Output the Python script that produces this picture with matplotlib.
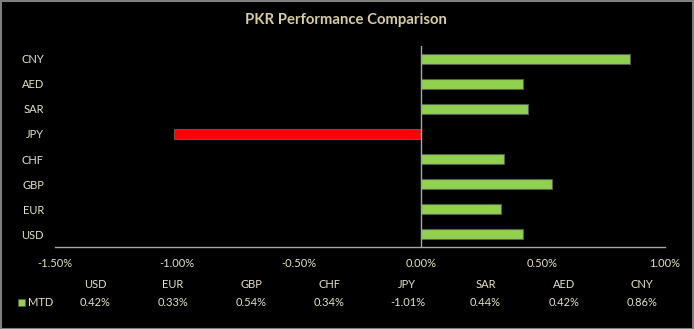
import matplotlib
matplotlib.use('Agg')
import matplotlib.pyplot as plt
from matplotlib.patches import Rectangle

# data (bottom to top, as in the chart)
currencies = ['USD', 'EUR', 'GBP', 'CHF', 'JPY', 'SAR', 'AED', 'CNY']
mtd = [0.42, 0.33, 0.54, 0.34, -1.01, 0.44, 0.42, 0.86]
x_ticks = [-1.5, -1.0, -0.5, 0.0, 0.5, 1.0]

title = 'PKR Performance Comparison'
series_name = 'MTD'

green = '#92d050'
red = '#ff0000'
txt = '#e6e2c6'
title_col = '#d6cda4'
line_col = '#a6a6a6'

plt.rcParams['font.family'] = ['Lato', 'DejaVu Sans']

W, H = 694, 329
fig = plt.figure(figsize=(W / 100, H / 100), dpi=100, facecolor='black')
ax = fig.add_axes([55 / W, 82 / H, 609.5 / W, 201 / H], facecolor='black')

colors = [red if v < 0 else green for v in mtd]
ax.barh(range(len(currencies)), mtd, height=0.4, color=colors,
        edgecolor='#55604d', linewidth=0.8, zorder=2)

ax.set_xlim(-1.5, 1.0)
ax.set_ylim(-0.5, len(currencies) - 0.5)
ax.axvline(0, color=line_col, linewidth=1, zorder=3)

ax.set_yticks(range(len(currencies)))
ax.set_yticklabels(currencies)
ax.set_xticks(x_ticks)
ax.set_xticklabels([f'{v:.2f}%' for v in x_ticks])
ax.tick_params(axis='y', length=0, pad=8, colors=txt, labelsize=8)
ax.tick_params(axis='x', length=0, pad=8, colors=txt, labelsize=8)

for s in ['top', 'right', 'left']:
    ax.spines[s].set_visible(False)
ax.spines['bottom'].set_color(line_col)
ax.spines['bottom'].set_linewidth(1)

fig.text(346 / W, 1 - 20 / H, title, color=title_col, fontsize=10.7,
         fontweight='bold', ha='center', va='center')

# data table under the chart
for i, (c, v) in enumerate(zip(currencies, mtd)):
    xc = (95 + 78.1 * i) / W
    fig.text(xc, 1 - 285 / H, c, color=txt, fontsize=8, ha='center', va='center')
    fig.text(xc, 1 - 302 / H, f'{v:.2f}%', color=txt, fontsize=8,
             ha='center', va='center')

fig.patches.append(Rectangle((18 / W, 1 - 305.5 / H), 7 / W, 7 / H,
                             transform=fig.transFigure, facecolor=green,
                             edgecolor='#55604d', linewidth=0.5))
fig.text(28 / W, 1 - 302 / H, series_name, color=txt, fontsize=8,
         ha='left', va='center')

# grey outer border
fig.patches.append(Rectangle((0.5 / W, 0.5 / H), 1 - 1.5 / W, 1 - 1.5 / H,
                             transform=fig.transFigure, facecolor='none',
                             edgecolor='#7f7f7f', linewidth=1.5))

fig.savefig('out.png', dpi=100, facecolor='black')
